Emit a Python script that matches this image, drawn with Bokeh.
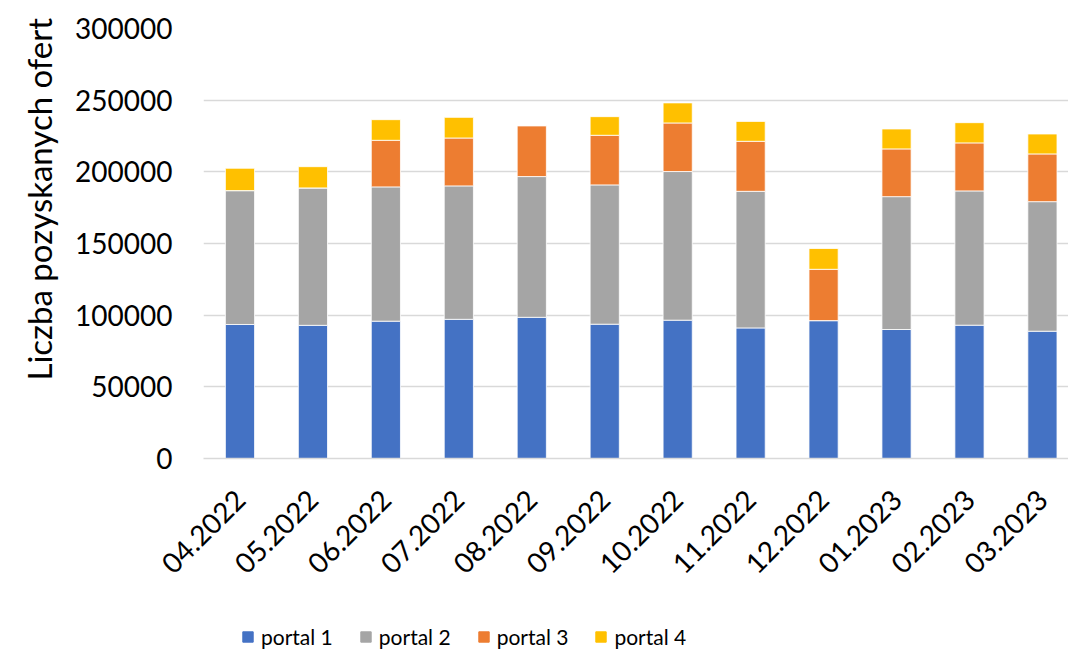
import math
from bokeh.plotting import figure
from bokeh.layouts import column
from bokeh.models import (ColumnDataSource, Range1d, FixedTicker, Legend, LegendItem, Title)
from bokeh.embed import file_html
from bokeh.resources import INLINE

months = ["04.2022", "05.2022", "06.2022", "07.2022", "08.2022", "09.2022",
          "10.2022", "11.2022", "12.2022", "01.2023", "02.2023", "03.2023"]
portal1 = [93500, 92900, 95800, 97100, 98500, 93700, 96500, 91100, 96200, 90000, 93000, 88800]
portal2 = [93400, 95900, 93700, 93100, 98200, 97200, 103700, 95300, 0, 92700, 93700, 90400]
portal3 = [0, 0, 32500, 33400, 35500, 34600, 33900, 34900, 35800, 33300, 33500, 33300]
portal4 = [15600, 14800, 14400, 14400, 0, 13000, 14000, 13900, 14500, 13900, 14100, 13900]
series = ["portal 1", "portal 2", "portal 3", "portal 4"]
colors = ["#4472C4", "#A5A5A5", "#ED7D31", "#FFC000"]
y_ticks = [0, 50000, 100000, 150000, 200000, 250000, 300000]

FONT = "Lato"
W = 1068
LEFT = 203
stack = ["p1", "p2", "p3", "p4"]

xs = list(range(len(months)))
source = ColumnDataSource(dict(x=xs, p1=portal1, p2=portal2, p3=portal3, p4=portal4))

p = figure(width=W, height=600, output_backend="svg", toolbar_location=None,
           x_range=Range1d(-0.5, -0.5 + (W - LEFT) / 72.95), y_range=Range1d(0, 300000),
           min_border_left=LEFT, min_border_right=0, min_border_top=28, min_border_bottom=142)
p.outline_line_color = None

p.vbar_stack(stack, x="x", width=0.4, source=source,
             color=colors, line_color="white", line_width=0.8)

# axes
p.xaxis.ticker = FixedTicker(ticks=xs)
p.xaxis.major_label_overrides = {i: m for i, m in enumerate(months)}
p.xaxis.major_label_orientation = math.pi / 4
p.xaxis.major_label_text_font = FONT
p.xaxis.major_label_text_font_size = "28px"
p.xaxis.major_label_text_color = "black"
p.xaxis.major_label_standoff = 36
p.xaxis.major_tick_out = 0
p.xaxis.major_tick_in = 0
p.xaxis.axis_line_color = "#D9D9D9"
p.xaxis.axis_line_width = 1.5
p.xaxis.major_tick_line_color = None
p.xaxis.minor_tick_line_color = None

p.yaxis.ticker = FixedTicker(ticks=y_ticks)
p.yaxis.formatter.use_scientific = False
p.yaxis.major_label_text_font = FONT
p.yaxis.major_label_text_font_size = "28px"
p.yaxis.major_label_text_color = "black"
p.yaxis.major_label_standoff = 31
p.yaxis.major_tick_out = 0
p.yaxis.major_tick_in = 0
p.yaxis.axis_line_color = None
p.yaxis.major_tick_line_color = None
p.yaxis.minor_tick_line_color = None

p.xgrid.grid_line_color = None
p.ygrid.grid_line_color = "#D9D9D9"
p.ygrid.grid_line_width = 1.5

ytitle = Title(text="Liczba pozyskanych ofert", align="left", offset=78, standoff=28,
               text_font=FONT, text_font_size="33px", text_font_style="normal",
               text_color="black")
p.add_layout(ytitle, "left")

# legend strip below the chart (its renderers are hidden; only the legend shows)
lg = figure(width=W, height=55, output_backend="svg", toolbar_location=None,
            min_border=0, x_axis_location=None, y_axis_location=None)
lg.outline_line_color = None
lg.grid.grid_line_color = None
legend_renderers = lg.vbar_stack(stack, x="x", width=0.4, source=source, color=colors)
for r in legend_renderers:
    r.visible = False
legend = Legend(items=[LegendItem(label=s, renderers=[r]) for s, r in zip(series, legend_renderers)],
                orientation="horizontal", location=(38, 6),
                glyph_width=13, glyph_height=13, label_text_font=FONT,
                label_text_font_size="21px", label_text_color="black",
                spacing=26, label_standoff=7, border_line_color=None,
                background_fill_alpha=0, margin=0, padding=0)
lg.add_layout(legend, "center")

open("out.html", "w").write(file_html(column(p, lg, spacing=0), INLINE))
